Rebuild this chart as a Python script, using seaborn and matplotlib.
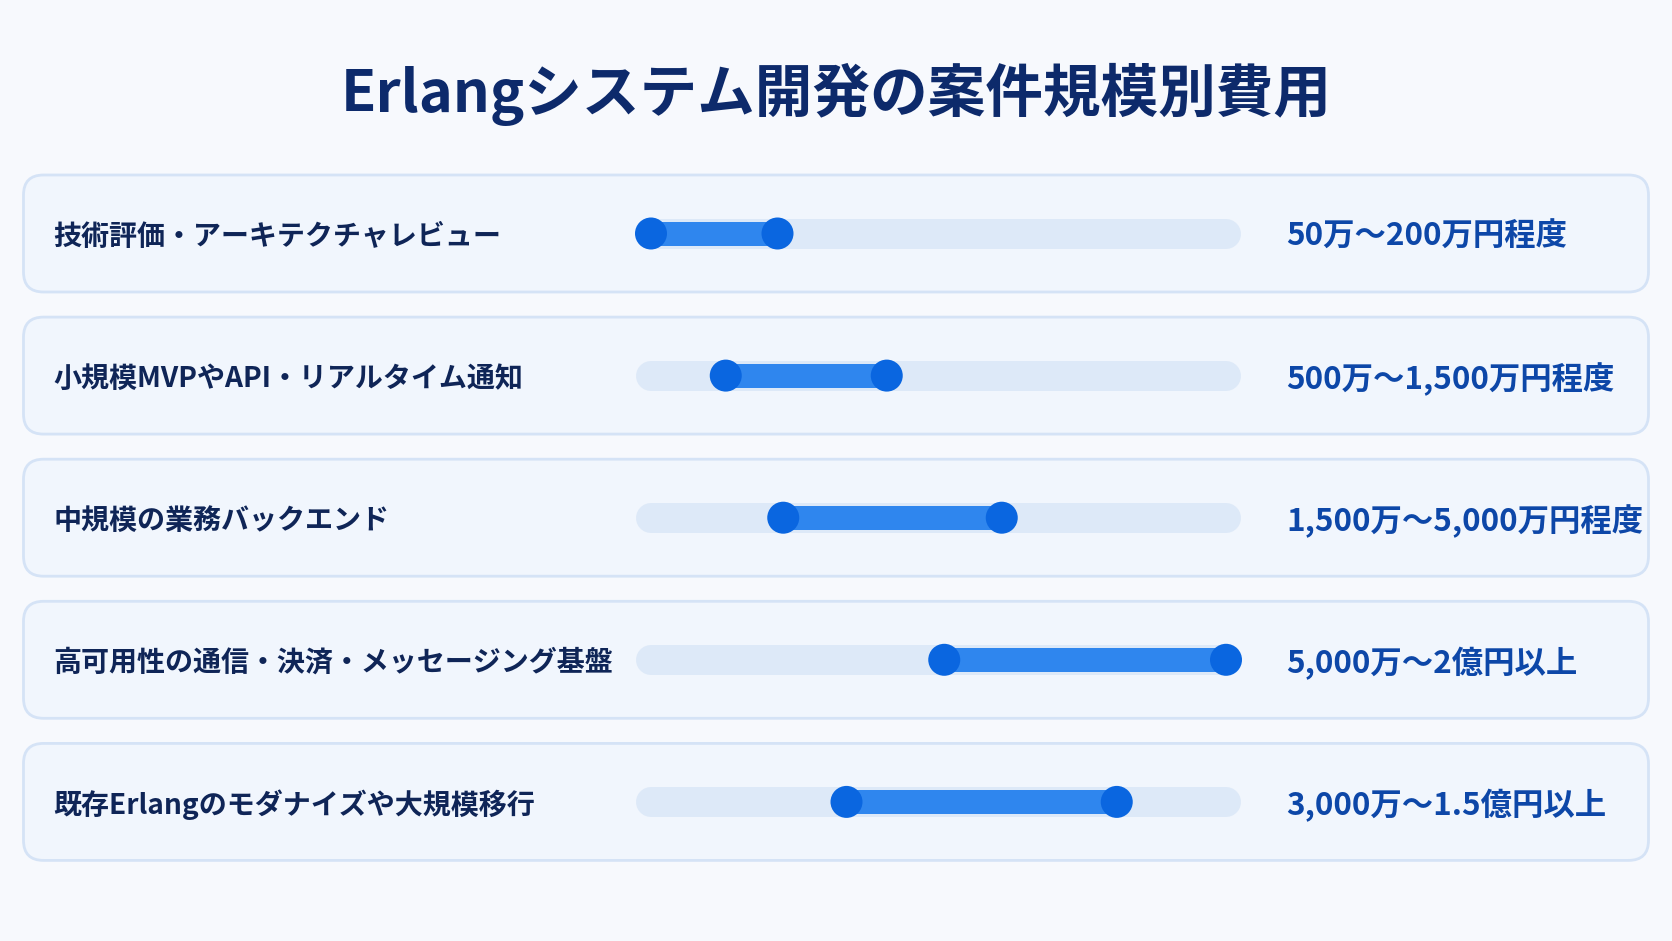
import matplotlib
matplotlib.use("Agg")
import matplotlib.pyplot as plt
from matplotlib.patches import FancyBboxPatch
import seaborn as sns
import pandas as pd

# ---- data ----
title = "Erlangシステム開発の案件規模別費用"
categories = [
    "技術評価・アーキテクチャレビュー",
    "小規模MVPやAPI・リアルタイム通知",
    "中規模の業務バックエンド",
    "高可用性の通信・決済・メッセージング基盤",
    "既存Erlangのモダナイズや大規模移行",
]
value_labels = [
    "50万～200万円程度",
    "500万～1,500万円程度",
    "1,500万～5,000万円程度",
    "5,000万～2億円以上",
    "3,000万～1.5億円以上",
]
# positions of range ends on the 0-100 track
range_start = [0, 13, 23, 51, 34]
range_end = [22, 41, 61, 100, 81]
track_min, track_max = 0, 100

df = pd.DataFrame({"category": categories, "label": value_labels,
                   "start": range_start, "end": range_end,
                   "row": list(range(len(categories)))})

# ---- style ----
sns.set_theme(style="white")
plt.rcParams["font.family"] = ["Noto Sans CJK JP", "DejaVu Sans"]

W, H, DPI = 1672, 941, 100
fig = plt.figure(figsize=(W / DPI, H / DPI), dpi=DPI)
bg = "#f7f9fd"
fig.patch.set_facecolor(bg)
ax = fig.add_axes([0, 0, 1, 1])
ax.set_facecolor(bg)

# layout: track 0 at pixel 651, 100 at pixel 1226; rows at 233.5 + 142.1*i
px_per_x = (1226 - 651) / (track_max - track_min)
x0_px = 651
px_per_row = 142.1
row0_px = 233.5
ax.set_xlim(track_min - x0_px / px_per_x, track_min + (W - x0_px) / px_per_x)
ax.set_ylim((H - row0_px) / px_per_row, -row0_px / px_per_row)
ax.axis("off")

aspect = px_per_x / px_per_row
card_left = track_min + (23.5 - x0_px) / px_per_x
card_right = track_min + (1648.5 - x0_px) / px_per_x
card_h = 117 / px_per_row
rad = 20 / px_per_x
pt = 72 / DPI

for r in df["row"]:
    card = FancyBboxPatch((card_left, r - card_h / 2), card_right - card_left, card_h,
                          boxstyle=f"round,pad=0,rounding_size={rad}",
                          mutation_aspect=aspect,
                          facecolor="#f1f6fd", edgecolor="#d5e3f6", linewidth=2, zorder=1)
    ax.add_patch(card)

# track
for r in df["row"]:
    ax.plot([track_min, track_max], [r, r], color="#dde9f8", lw=30 * pt,
            solid_capstyle="round", zorder=2)
# range bars
for _, d in df.iterrows():
    ax.plot([d["start"], d["end"]], [d["row"], d["row"]], color="#2f86ee",
            lw=24 * pt, solid_capstyle="butt", zorder=3)

dots = pd.concat([df[["start", "row"]].rename(columns={"start": "x"}),
                  df[["end", "row"]].rename(columns={"end": "x"})])
sns.scatterplot(data=dots, x="x", y="row", ax=ax, s=(32 * pt) ** 2,
                color="#0a66e0", edgecolor="none", zorder=4, legend=False)
ax.set_xlabel("")
ax.set_ylabel("")
ax.axis("off")

label_x = track_min + (53 - x0_px) / px_per_x
value_x = track_min + (1286 - x0_px) / px_per_x
for _, d in df.iterrows():
    ax.text(label_x, d["row"], d["category"], ha="left", va="center_baseline",
            fontsize=20.2, fontweight="bold", color="#0f2557", zorder=5)
    ax.text(value_x, d["row"], d["label"], ha="left", va="center_baseline",
            fontsize=22.6, fontweight="bold", color="#0d47a8", zorder=5)

fig.text(0.5, 1 - 87 / H, title, ha="center", va="center_baseline",
         fontsize=41.5, fontweight="bold", color="#0d2a6b")

fig.savefig("out.png", dpi=DPI, facecolor=bg)
